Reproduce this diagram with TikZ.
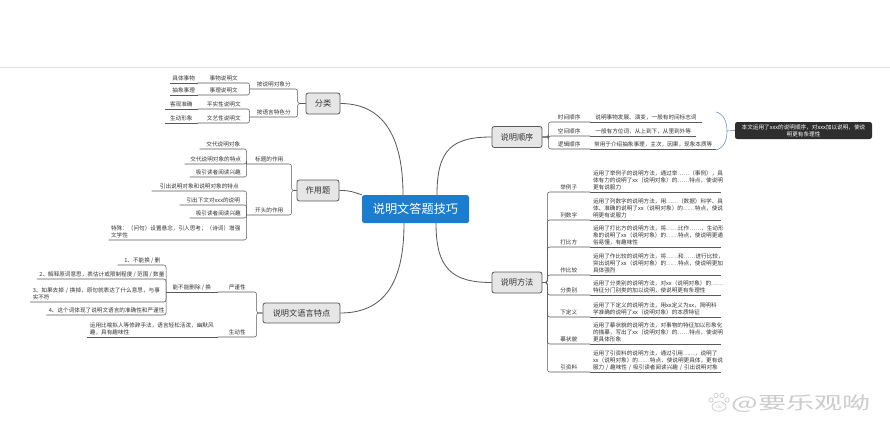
\documentclass[tikz,border=0pt]{standalone}
\usepackage{fontspec}
\setmainfont{Noto Sans CJK SC}

\definecolor{linec}{HTML}{5A5A5A}
\definecolor{txtc}{HTML}{333333}
\definecolor{rootc}{HTML}{1B7DD0}
\definecolor{boxc}{HTML}{E6E6E6}
\definecolor{sumc}{HTML}{6E8FB3}
\definecolor{notec}{HTML}{2E2E2E}

\begin{document}
\begin{tikzpicture}[
  x=0.03cm, y=-0.03cm, % one unit = one pixel of the sketch
  conn/.style={draw=linec, line width=0.45pt, rounded corners=2pt},
  curve/.style={draw=linec, line width=0.7pt},
  root/.style={fill=rootc, text=white, rounded corners=1.5pt,
    font=\fontsize{10.4}{12}\selectfont, minimum width=3.21cm, minimum height=0.84cm},
  branch/.style={draw=linec, fill=boxc, line width=0.7pt, rounded corners=2pt,
    font=\fontsize{7}{8}\selectfont, text=txtc, minimum height=0.63cm, inner sep=0pt},
  topic/.style={font=\fontsize{4.8}{6}\selectfont, text=txtc, inner xsep=2pt, inner ysep=1.2pt},
  lt/.style={topic, anchor=south east}, % topics on the left side
  rt/.style={topic, anchor=south west}, % topics on the right side
  wd/.style={minimum width=#1*0.03cm},
  para/.style={text width=#1cm, align=left},
  note/.style={fill=notec, text=white, rounded corners=2pt, align=center,
    font=\fontsize{4.8}{5.8}\selectfont, minimum width=4.11cm, minimum height=0.51cm, inner sep=1pt}
]
\useasboundingbox (0,0) rectangle (890,445);
\fill[white] (0,0) rectangle (890,445);
\draw[gray!25, line width=0.8pt] (0,67) -- (890,67);

% centre topic
\node[root] (root) at (415.5,209) {说明文答题技巧};

% main topics
\node[branch, minimum width=1.02cm] (fenlei) at (323,103.5) {分类};
\node[branch, minimum width=1.26cm] (zuoyong) at (318,190.5) {作用题};
\node[branch, minimum width=2.31cm, minimum height=0.6cm] (yuyan) at (301.5,313) {说明文语言特点};
\node[branch, minimum width=1.5cm] (shunxu) at (517,137) {说明顺序};
\node[branch, minimum width=1.5cm] (fangfa) at (517,282.5) {说明方法};

\draw[curve] (fenlei.east) .. controls +(48,0) and +(0,-50) .. ([xshift=-0.375cm]root.north);
\draw[curve] (zuoyong.east) .. controls +(12,0) and +(-10,-3) .. (root.north west);
\draw[curve] (yuyan.east) .. controls +(50,0) and +(0,50) .. ([xshift=-0.345cm]root.south);
\draw[curve] ([xshift=0.645cm]root.north) .. controls +(0,-45) and +(-40,0) .. (shunxu.west);
\draw[curve] ([xshift=0.615cm]root.south) .. controls +(0,45) and +(-40,0) .. (fangfa.west);

% 分类
\node[lt, wd=48] (dx) at (298,89) {按说明对象分};
\node[lt, wd=48] (ys) at (298,117) {按语言特色分};
\node[lt, wd=52] (swsm) at (250,83) {事物说明文};
\node[lt, wd=52] (slsm) at (250,95) {事理说明文};
\node[lt, wd=52] (pssm) at (250,109) {平实性说明文};
\node[lt, wd=52] (wysm) at (250,123) {文艺性说明文};
\node[lt] (jtsw) at (swsm.south west) {具体事物};
\node[lt] (cxsl) at (slsm.south west) {抽象事理};
\node[lt, wd=32] (kgzq) at (pssm.south west) {客观准确};
\node[lt, wd=32] (sdxx) at (wysm.south west) {生动形象};

\draw[conn] (fenlei.west) -- ++(-8,0) |- (dx.south west);
\draw[conn] (fenlei.west) -- ++(-8,0) |- (ys.south west);
\draw[conn] (dx.south west) |- (swsm.south west);
\draw[conn] (dx.south west) |- (slsm.south west);
\draw[conn] (ys.south west) |- (pssm.south west);
\draw[conn] (ys.south west) |- (wysm.south west);
\draw[conn] (swsm.south west) -- (jtsw.south west);
\draw[conn] (slsm.south west) -- (cxsl.south west);
\draw[conn] (pssm.south west) -- (kgzq.south west);
\draw[conn] (wysm.south west) -- (sdxx.south west);

% 作用题
\node[lt, wd=45] (btzy) at (292,164) {标题的作用};
\node[lt, wd=45] (ktzy) at (292,215) {开头的作用};
\node[lt, wd=47] (bt1) at (247,149) {交代说明对象};
\node[lt, wd=62] (bt2) at (247,164) {交代说明对象的特点};
\node[lt, wd=57] (bt3) at (247,177) {吸引读者阅读兴趣};
\node[lt, wd=95] (kt1) at (247,191) {引出说明对象和说明对象的特点};
\node[lt, wd=67] (kt2) at (247,205) {引出下文对xxx的说明};
\node[lt, wd=57] (kt3) at (247,218) {吸引读者阅读兴趣};
\node[lt, para=4.0] (kt4) at (247,240) {特殊：（问句）设置悬念，引人思考；（诗词）增强\\文学性};

\draw[conn] (zuoyong.west) -- ++(-5,0) |- (btzy.south west);
\draw[conn] (zuoyong.west) -- ++(-5,0) |- (ktzy.south west);
\foreach \t in {bt1,bt2,bt3}
  \draw[conn] (btzy.south west) |- (\t.south west);
\foreach \t in {kt1,kt2,kt3,kt4}
  \draw[conn] (ktzy.south west) |- (\t.south west);

% 说明文语言特点
\node[lt, wd=39] (yj) at (257,292) {严谨性};
\node[lt, wd=39] (sd) at (257,337) {生动性};
\node[lt, wd=51] (nbn) at (yj.south west) {能不能删除 / 换};
\node[lt, wd=49] (n1) at (167,265) {1、不能换 / 删};
\node[lt] (n2) at (167,279) {2、解释原词意思，表估计或限制程度 / 范围 / 数量};
\node[lt, para=3.95] (n3) at (167,302) {3、如果去掉~/~换掉，原句就表达了什么意思，与事\\实不符};
\node[lt] (n4) at (167,315) {4、这个词体现了说明文语言的准确性和严谨性};
\node[lt, para=3.75] (sd1) at (sd.south west) {运用比喻拟人等修辞手法，语言轻松活泼，幽默风\\趣，具有趣味性};

\draw[conn] (yuyan.west) -- ++(-6,0) |- (yj.south west);
\draw[conn] (yuyan.west) -- ++(-6,0) |- (sd.south west);
\draw[conn] (yj.south west) -- (nbn.south west);
\foreach \t in {n1,n2,n3,n4}
  \draw[conn] (nbn.south west) |- (\t.south west);
\draw[conn] (sd.south west) -- (sd1.south west);

% 说明顺序
\node[rt, wd=42] (sj) at (548,122) {时间顺序};
\node[rt, wd=42] (kj) at (548,136) {空间顺序};
\node[rt, wd=42] (lj) at (548,149) {逻辑顺序};
\node[rt, inner xsep=4pt] (sjd) at (sj.south east) {说明事物发展、演变，一般有时间标志词};
\node[rt, inner xsep=4pt] (kjd) at (kj.south east) {一般有方位词，从上到下，从里到外等};
\node[rt, inner xsep=3pt] (ljd) at (lj.south east) {常用于介绍抽象事理，主次，因果，现象本质等};

\draw[conn] (shunxu.east) -- ++(6,0) |- (sj.south east);
\draw[conn] (shunxu.east) -- ++(6,0) |- (kj.south east);
\draw[conn] (shunxu.east) -- ++(6,0) |- (lj.south east);
\draw[conn] (sj.south east) -- (sjd.south east);
\draw[conn] (kj.south east) -- (kjd.south east);
\draw[conn] (lj.south east) -- (ljd.south east);

% summary of the orders
\node[note] (note) at (803.5,130.5) {本文运用了xxx的说明顺序，对xxx加以说明，使说\\明更有条理性};
\coordinate (brace) at (727,131);
\draw[sumc, line width=0.5pt] (716,112) .. controls (724,114) and (727,122) .. (brace)
  .. controls (727,140) and (724,148) .. (716,150);
\draw[sumc, line width=0.5pt] (brace) -- (note.west);

% 说明方法
\node[rt, wd=43] (jlz) at (547,192) {举例子};
\node[rt, wd=43] (lsz) at (547,220) {列数字};
\node[rt, wd=43] (dbf) at (547,247) {打比方};
\node[rt, wd=43] (zbj) at (547,275) {作比较};
\node[rt, wd=43] (flb) at (547,295) {分类别};
\node[rt, wd=43] (xdy) at (547,317) {下定义};
\node[rt, wd=43] (mzm) at (547,344) {摹状貌};
\node[rt, wd=43] (yzl) at (547,372) {引资料};

\node[rt, para=3.75] (jlzd) at (jlz.south east) {运用了举例子的说明方法，通过举……（事例），具\\体有力的说明了xx（说明对象）的……特点，使说明\\更有说服力};
\node[rt, para=3.75] (lszd) at (lsz.south east) {运用了列数字的说明方法，用……（数据）科学、具\\体、准确的说明了xx（说明对象）的……特点，使说\\明更有说服力};
\node[rt, para=3.75] (dbfd) at (dbf.south east) {运用了打比方的说明方法，将……比作……，生动形\\象的说明了xx（说明对象）的……特点，使说明更通\\俗易懂，有趣味性};
\node[rt, para=3.75] (zbjd) at (zbj.south east) {运用了作比较的说明方法，将……和……进行比较，\\突出说明了xx（说明对象）的……特点，使说明更加\\具体强烈};
\node[rt, para=3.75] (flbd) at (flb.south east) {运用了分类别的说明方法，对xx（说明对象）的……\\特征分门别类的加以说明，使说明更有条理性};
\node[rt, para=3.75] (xdyd) at (xdy.south east) {运用了下定义的说明方法，用xx定义为xx，简明科\\学准确的说明了xx（说明对象）的本质特征};
\node[rt, para=3.75] (mzmd) at (mzm.south east) {运用了摹状貌的说明方法，对事物的特征加以形象化\\的描摹，写出了xx（说明对象）的……特点，使说明\\更具体形象};
\node[rt, para=3.75] (yzld) at (yzl.south east) {运用了引资料的说明方法，通过引用……，说明了\\xx（说明对象）的……特点，使说明更具体，更有说\\服力~/~趣味性~/~吸引读者阅读兴趣~/~引出说明对象};

\foreach \m in {jlz,lsz,dbf,zbj,flb,xdy,mzm,yzl} {
  \draw[conn] (fangfa.east) -- ++(5,0) |- (\m.south east);
  \draw[conn] (\m.south east) -- (\m d.south east);
}

% watermark
\begin{scope}[draw=gray!45, line width=0.5pt]
  \draw (711,400) circle (2.2);
  \draw (716,395.5) circle (2.2);
  \draw (722,395.5) circle (2.2);
  \draw (727,400) circle (2.2);
  \draw (719,406.5) ellipse (7 and 4.8);
\end{scope}
\node[text=gray!50, font=\fontsize{3.5}{4}\selectfont, inner sep=0pt] (du) at (719,407) {du};
\node[text=gray!40, font=\fontsize{15}{15}\selectfont, inner sep=0pt] (wm) at (801,404) {\scalebox{1.6}[1]{@要乐观呦}};
\end{tikzpicture}
\end{document}
